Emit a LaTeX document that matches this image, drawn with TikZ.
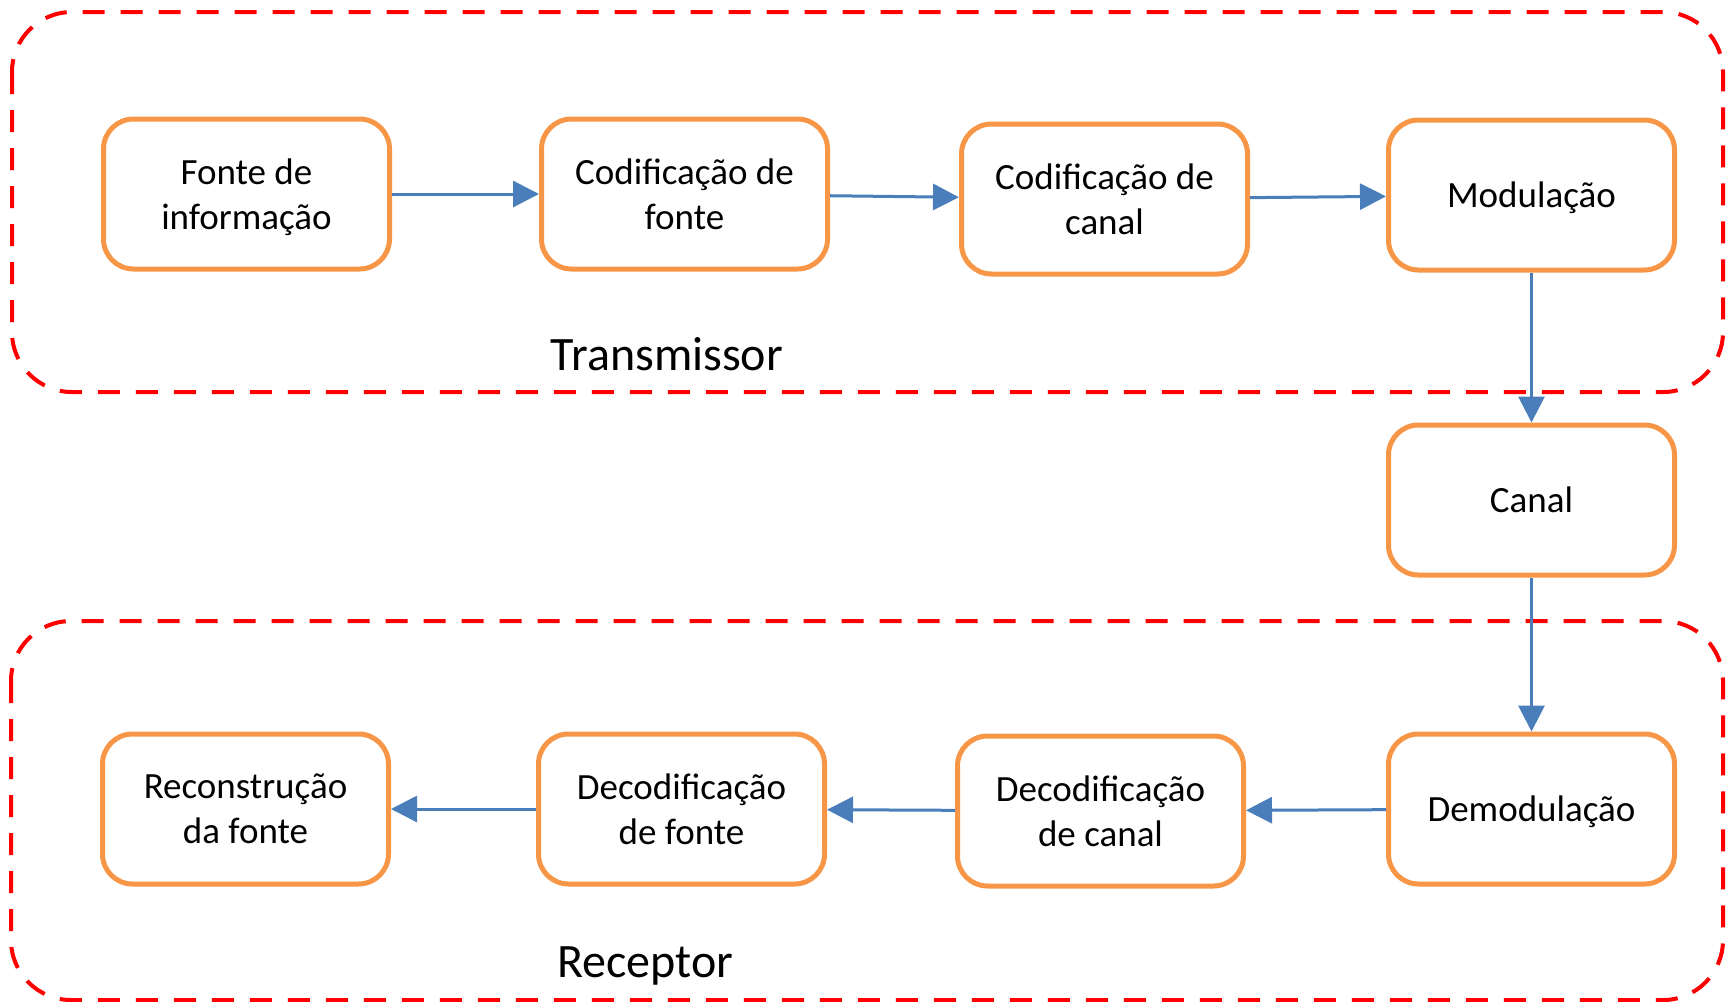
\documentclass[tikz,border=0pt]{standalone}
\usepackage{fontspec}
\setmainfont{Carlito}
\usepackage{xcolor}
\usetikzlibrary{shapes,arrows.meta,positioning}
\definecolor{boxorange}{HTML}{F79646}
\definecolor{arrowblue}{HTML}{4A7EBB}

\begin{document}
\begin{tikzpicture}[
    x = 0.5pt, y = -0.5pt,
    box/.style = {rectangle, draw=boxorange, line width=2.5pt, rounded corners=15pt, minimum width=143pt, minimum height=75pt, text depth=-1pt, align=center, font=\fontsize{18.5}{22.5}\selectfont},
    line/.style = {draw=arrowblue, line width=1.5pt, -{Triangle[length=13pt,width=13pt]}},
    group/.style = {draw=red, line width=2pt, dash pattern=on 11pt off 8pt, rounded corners=30pt},
    grouplabel/.style = {font=\fontsize{24}{28}\selectfont, anchor=base}
]
\useasboundingbox (0,0) rectangle (1731,1002);

% transmissor and receptor
\draw[group] (12,12) rectangle (1723,392);
\draw[group] (11,621) rectangle (1723,1000);
\node[grouplabel] (tx) at (667,370) {Transmissor};
\node[grouplabel] (rx) at (645,977) {Receptor};

\node[box] (fonte) at (246.5,194) {Fonte de\\informação};
\node[box, right=73.5pt of fonte] (codfonte) {Codificação de\\fonte};
\node[box, right=64.5pt of codfonte, yshift=-2.5pt] (codcanal) {Codificação de\\canal};
\node[box, right=68pt of codcanal, yshift=2pt] (modulacao) {Modulação};
\node[box, below=75pt of modulacao] (canal) {Canal};
\node[box, below=77pt of canal] (demodulacao) {Demodulação};
\node[box, left=70pt of demodulacao, yshift=-1pt] (decodcanal) {Decodificação\\de canal};
\node[box, left=64pt of decodcanal, yshift=1pt] (decodfonte) {Decodificação\\de fonte};
\node[box, left=72.5pt of decodfonte] (reconstrucao) {Reconstrução\\da fonte};

\path[line] (fonte) -- (codfonte);
\path[line] (codfonte) -- (codcanal);
\path[line] (codcanal) -- (modulacao);
\path[line] (modulacao) -- (canal);
\path[line] (canal) -- (demodulacao);
\path[line] (demodulacao) -- (decodcanal);
\path[line] (decodcanal) -- (decodfonte);
\path[line] (decodfonte) -- (reconstrucao);
\end{tikzpicture}
\end{document}
